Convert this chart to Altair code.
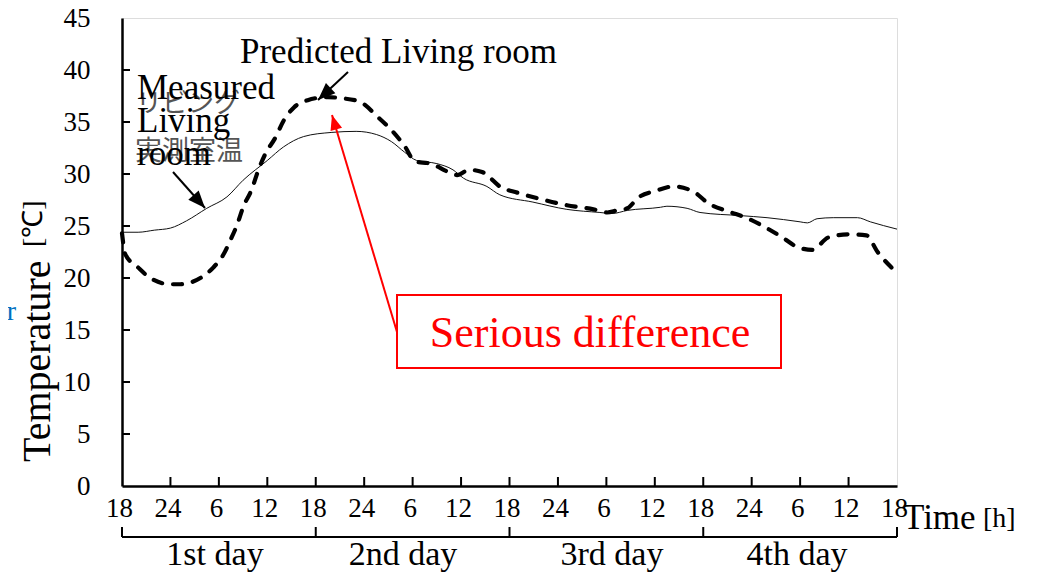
import math
import altair as alt
import pandas as pd

SERIF = "Liberation Serif"
CJK = "Noto Sans CJK JP"

# ---- data (hours since 18:00 of day 1, temperature degC)
meas_h = [0, 2, 4, 6, 8, 10.5, 13, 15, 18, 20, 22.5, 26, 29, 31.5, 33.4, 35, 36.5, 39, 41, 42.3,
          45.2, 46.8, 50.9, 55.1, 59.2, 60.7, 62.6, 66.7, 67.5, 70, 71.6, 76.6, 79.9, 84, 84.9,
          86.1, 88.1, 91.1, 92.7, 96]
meas_t = [24.4, 24.4, 24.6, 24.8, 25.5, 26.7, 27.8, 29.4, 31.3, 32.6, 33.6, 34.0, 34.1, 33.8, 33.1,
          32.1, 31.3, 31.0, 30.4, 29.6, 28.8, 28.0, 27.3, 26.6, 26.3, 26.2, 26.5, 26.8, 26.9, 26.7,
          26.3, 26.0, 25.8, 25.4, 25.3, 25.7, 25.8, 25.8, 25.4, 24.7]

pred_h = [0, 0.4, 2, 3.5, 6, 7.2, 9.7, 11.3, 12.6, 13.4, 14.3, 15, 16, 17, 17.8, 19, 20, 21.3, 23,
          25.5, 27, 29.3, 31.8, 33.4, 35, 36.3, 38.2, 40.4, 41.5, 43, 44.6, 45.2, 46.8, 49, 51.8,
          55.1, 58.4, 60.1, 61.3, 62.6, 63.9, 66.2, 68.3, 70.8, 72.6, 75.1, 77.3, 79.4, 81.8, 83.6,
          85.5, 87.5, 90, 92.2, 93.6, 95.2, 96]
pred_t = [24.3, 22.3, 21.0, 20.0, 19.4, 19.4, 20.0, 21.0, 22.3, 23.6, 25.2, 26.8, 28.4, 30.6, 32.0,
          33.5, 35.1, 36.4, 37.1, 37.4, 37.3, 37.0, 35.4, 34.2, 32.7, 31.2, 31.0, 30.2, 29.9, 30.4,
          30.2, 29.9, 28.8, 28.2, 27.6, 27.0, 26.6, 26.3, 26.5, 26.7, 27.7, 28.4, 28.8, 28.3, 27.2,
          26.4, 25.8, 25.0, 23.9, 23.0, 22.7, 23.9, 24.2, 24.1, 22.5, 21.1, 20.5]

x_tick_values = [0, 6, 12, 18, 24, 30, 36, 42, 48, 54, 60, 66, 72, 78, 84, 90, 96]
x_tick_labels = ["18", "24", "6", "12", "18", "24", "6", "12", "18", "24", "6", "12", "18",
                 "24", "6", "12", "18"]
y_tick_values = [0, 5, 10, 15, 20, 25, 30, 35, 40, 45]
day_bounds = [0, 24, 48, 72, 96]
day_labels = ["1st day", "2nd day", "3rd day", "4th day"]

txt_pred = "Predicted Living room"
txt_meas = ["Measured", "Living", "room"]
txt_jp = ["リビング", "実測室温"]
txt_diff = "Serious difference"
txt_ytitle = ["Temperature", "[℃]"]
txt_xtitle = ["Time", "[h]"]
txt_or = "or"

W, H = 775, 468

xscale = alt.Scale(domain=[0, 96], nice=False, zero=False)
yscale = alt.Scale(domain=[0, 45], nice=False, zero=False)
label_expr = "[" + ",".join(f"'{s}'" for s in x_tick_labels) + "][round(datum.value / 6)]"

x_axis = alt.Axis(values=x_tick_values, labelExpr=label_expr, title=None, ticks=False, grid=False,
                  labelFont=SERIF, labelFontSize=27, labelPadding=9, labelColor="black",
                  labelOffset=-3,
                  domainColor="black", domainWidth=2.5, labelFlush=False, labelOverlap=False)
y_axis = alt.Axis(values=y_tick_values, title=None, ticks=False, grid=False,
                  labelFont=SERIF, labelFontSize=27, labelPadding=32, labelColor="black",
                  domainColor="black", domainWidth=2.5, labelFlush=False, labelOverlap=False)

X = lambda: alt.X("h:Q", scale=xscale, axis=x_axis)
Y = lambda: alt.Y("t:Q", scale=yscale, axis=y_axis)

measured = pd.DataFrame({"h": meas_h, "t": meas_t})
predicted = pd.DataFrame({"h": pred_h, "t": pred_t})

meas_line = alt.Chart(measured).mark_line(color="#111111", strokeWidth=1,
                                          interpolate="monotone").encode(x=X(), y=Y())
pred_line = alt.Chart(predicted).mark_line(color="black", strokeWidth=4.2, strokeDash=[9, 11],
                                           strokeCap="round",
                                           interpolate="monotone").encode(x=X(), y=Y())

# inward ticks
xt = pd.DataFrame({"h": x_tick_values[1:-1]})
x_ticks = alt.Chart(xt).mark_rule(color="black", strokeWidth=2).encode(
    x=X(), y=alt.value(H), y2=alt.value(H - 9))
yt = pd.DataFrame({"t": y_tick_values[1:-1]})
y_ticks = alt.Chart(yt).mark_rule(color="black", strokeWidth=2).encode(
    y=Y(), x=alt.value(0), x2=alt.value(8))

# day bracket
bt = pd.DataFrame({"h": day_bounds})
br_ticks = alt.Chart(bt).mark_rule(color="black", strokeWidth=2).encode(
    x=X(), y=alt.value(H + 41), y2=alt.value(H + 51))
one = pd.DataFrame({"a": [0]})
br_line = alt.Chart(one).mark_rule(color="black", strokeWidth=2).encode(
    x=alt.value(0), x2=alt.value(W), y=alt.value(H + 51))


def txt(s, x, y, size, color="black", font=SERIF, align="left", baseline="alphabetic", angle=None):
    kw = dict(font=font, fontSize=size, color=color, align=align, baseline=baseline)
    if angle is not None:
        kw["angle"] = angle
    return alt.Chart(pd.DataFrame({"s": [s]})).mark_text(**kw).encode(
        x=alt.value(x), y=alt.value(y), text="s:N")


def arrow(x1, y1, x2, y2, color, width, size):
    line = alt.Chart(one).mark_rule(color=color, strokeWidth=width).encode(
        x=alt.value(x1), y=alt.value(y1), x2=alt.value(x2), y2=alt.value(y2))
    ang = math.degrees(math.atan2(x2 - x1, -(y2 - y1))) % 360
    head = alt.Chart(one).mark_point(shape="M0,0L0.4,1L-0.4,1Z", filled=True, color=color,
                                     size=size, angle=ang, opacity=1, strokeWidth=0).encode(
        x=alt.value(x2), y=alt.value(y2))
    return [line, head]


box = alt.Chart(one).mark_rect(fill="white", stroke="#ff0000", strokeWidth=2).encode(
    x=alt.value(275), x2=alt.value(659), y=alt.value(277), y2=alt.value(350))

day_x = [93, 281, 490, 675]
layers = [meas_line, pred_line, x_ticks, y_ticks, br_ticks, br_line]
layers += arrow(275, 314, 210, 97, "#ff0000", 2, 900)
layers.append(box)
layers += arrow(226, 54, 196, 82, "black", 2, 1200)
layers += arrow(51, 154, 83, 190, "black", 2, 1200)
layers += [
    txt(txt_diff, 468, 329, 44, color="#ff0000", align="center"),
    txt(txt_pred, 118, 45, 35),
    txt(txt_jp[0], 14, 94, 26, color="#555555", font=CJK),
    txt(txt_jp[1], 13, 142, 27, color="#555555", font=CJK),
    txt(txt_meas[0], 15, 81, 35),
    txt(txt_meas[1], 15, 114, 35),
    txt(txt_meas[2], 15, 147, 35),
    txt(txt_ytitle[0], -72, 444, 40, angle=270),
    txt(txt_ytitle[1], -80, 229, 28, angle=270),
    txt(txt_xtitle[0], 781, 511, 35),
    txt(txt_xtitle[1], 861, 509, 28),
    txt(txt_or, -106, 302, 28, color="#0070C0", align="right"),
]
for lab, dx in zip(day_labels, day_x):
    layers.append(txt(lab, dx, 547, 34, align="center"))

chart = alt.layer(*layers).properties(
    width=W, height=H,
    padding={"left": 114, "top": 10, "right": 125, "bottom": 88},
    autosize=alt.AutoSizeParams(type="none"),
).configure_view(stroke="black", strokeWidth=2).configure(background="white")

chart.save("out.html", embed_options={"renderer": "svg", "actions": False})
